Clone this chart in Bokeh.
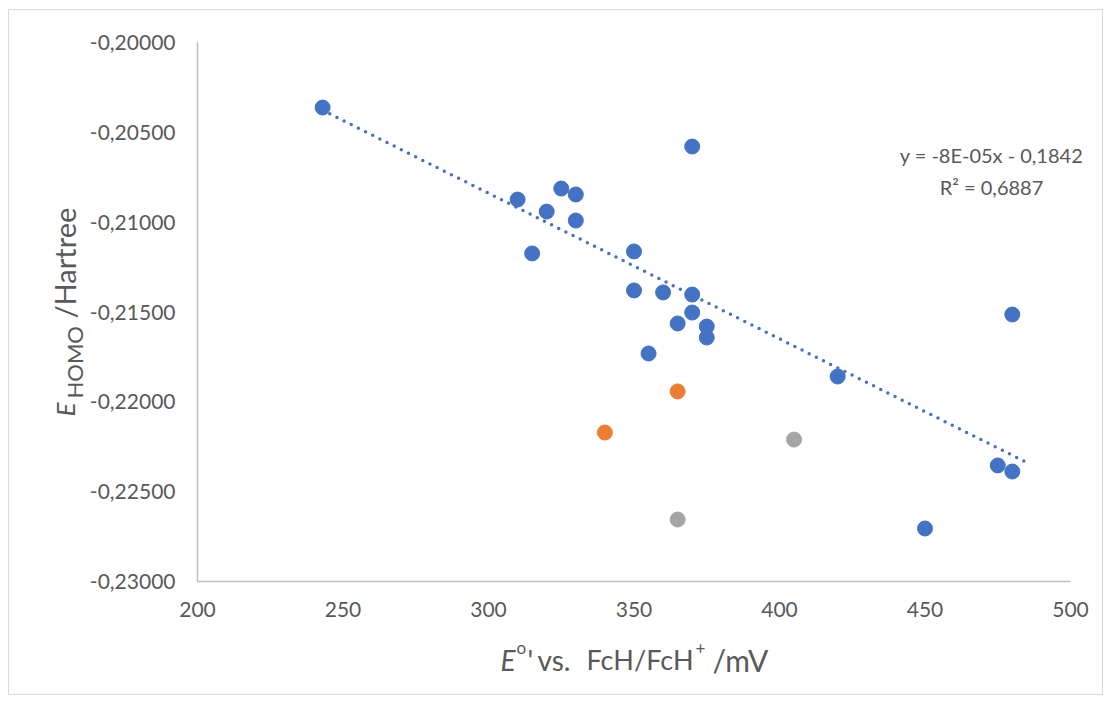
import numpy as np
from bokeh.plotting import figure
from bokeh.models import Range1d, FixedTicker
from bokeh.core.properties import value
from bokeh.embed import file_html
from bokeh.resources import INLINE

# ---- data ----
blue_x = [243, 370, 325, 330, 310, 320, 330, 350, 315, 350, 360, 370, 370, 365, 375, 375, 355, 480, 420, 475, 480, 450]
blue_y = [-0.20362, -0.20579, -0.20813, -0.20846, -0.20874, -0.20941, -0.20991, -0.21163, -0.21174, -0.21380,
          -0.21391, -0.21403, -0.21503, -0.21564, -0.21581, -0.21642, -0.21731, -0.21514, -0.21859, -0.22354,
          -0.22388, -0.22705]
orange_x = [365, 340]
orange_y = [-0.21942, -0.22171]
gray_x = [405, 365]
gray_y = [-0.22210, -0.22655]

x_ticks = [200, 250, 300, 350, 400, 450, 500]
y_ticks = [-0.230, -0.225, -0.220, -0.215, -0.210, -0.205, -0.200]
y_tick_labels = ["-0,23000", "-0,22500", "-0,22000", "-0,21500", "-0,21000", "-0,20500", "-0,20000"]
trend_text_1 = "y = -8E-05x - 0,1842"
trend_text_2 = "R² = 0,6887"

FONT = "Lato"
TXT = "#595959"

X0, X1, Y0, Y1 = 200, 500, -0.23, -0.20
W, H = 1095, 686
BL, BR, BT, BB = 188, 34, 32, 115

p = figure(width=W, height=H, output_backend="svg", toolbar_location=None,
           x_range=Range1d(X0, X1), y_range=Range1d(Y0, Y1),
           min_border_left=BL, min_border_right=BR, min_border_top=BT, min_border_bottom=BB)
p.styles = {"border": "1px solid #D9D9D9", "margin-left": "8px", "margin-top": "9px"}
p.outline_line_color = None
p.grid.grid_line_color = None
p.background_fill_color = "white"
p.border_fill_color = "white"

for ax in (p.xaxis[0], p.yaxis[0]):
    ax.axis_line_color = "#BFBFBF"
    ax.axis_line_width = 1.5
    ax.major_tick_line_color = None
    ax.minor_tick_line_color = None
    ax.major_tick_out = 0
    ax.major_tick_in = 0
    ax.minor_tick_out = 0
    ax.major_label_text_font = FONT
    ax.major_label_text_font_size = "21px"
    ax.major_label_text_color = TXT

p.xaxis.ticker = FixedTicker(ticks=x_ticks)
p.yaxis.ticker = FixedTicker(ticks=y_ticks)
p.yaxis.major_label_overrides = dict(zip(y_ticks, y_tick_labels))
p.yaxis.major_label_standoff = 22
p.xaxis.major_label_standoff = 20

# trendline (least squares on blue series)
slope, intercept = np.polyfit(blue_x, blue_y, 1)
tx = np.array([min(blue_x), max(blue_x) + 5])
p.line(tx, slope * tx + intercept, line_color="#4472C4", line_width=3.5,
       line_dash="0 8", line_cap="round")

p.scatter(blue_x, blue_y, size=15, fill_color="#4472C4", line_color="#4472C4")
p.scatter(orange_x, orange_y, size=15, fill_color="#ED7D31", line_color="#ED7D31")
p.scatter(gray_x, gray_y, size=15, fill_color="#A5A5A5", line_color="#A5A5A5")

# --- text placed by frame-relative pixel offsets (converted through the scales) ---
FW = W - BL - BR
FH = H - BT - BB

def at(dx_px, dy_px):
    return X0 + dx_px * (X1 - X0) / FW, Y0 + dy_px * (Y1 - Y0) / FH

def txt(dx_px, dy_px, text, size, style="normal", align="left", angle=0.0):
    x, y = at(dx_px, dy_px)
    p.text(x=[x], y=[y], text=[text], text_font=value(FONT), text_font_size=size,
           text_font_style=style, text_color=TXT, text_align=align,
           text_baseline="alphabetic", angle=angle, level="overlay")

# frame: left edge at page x 197, bottom edge at page y 581
def pg(px, py, *a, **k):
    txt(px - 197, 581 - py, *a, **k)

# trendline equation
pg(991, 154, trend_text_1, "20px", align="center")
pg(991, 186, trend_text_2, "20px", align="center")

# x axis title: E°' vs. FcH/FcH+ /mV
pg(500, 659, "E", "28px", style="italic")
pg(516, 647, "o", "17px")
pg(527, 659, "'", "28px")
pg(537, 659, "vs.", "28px")
pg(586, 659, "FcH/FcH", "27px")
pg(695, 648, "+", "17px")
pg(712, 659, "/mV", "30px")

# y axis title (rotated): E_HOMO /Hartree
ang = np.pi / 2
pg(64, 416, "E", "26px", style="italic", angle=ang)
pg(74, 398, "HOMO", "22px", angle=ang)
pg(64, 318, "/Hartree", "29px", angle=ang)

open("out.html", "w").write(file_html(p, INLINE))
